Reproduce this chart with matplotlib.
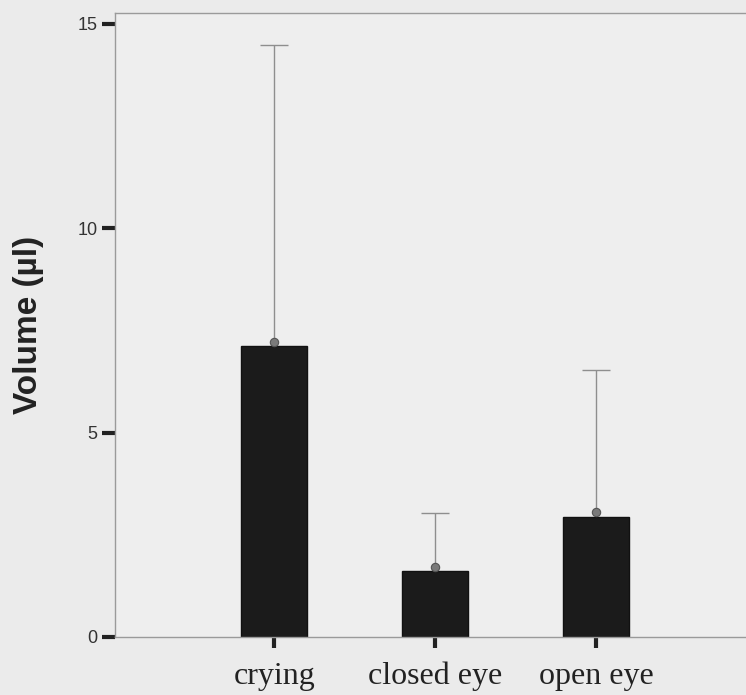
import numpy as np
import matplotlib.pyplot as plt

# bar chart of tear volume per condition
categories = ['crying', 'closed eye', 'open eye']
bar_heights = [7.12, 1.61, 2.94]
means = [7.22, 1.72, 3.05]
upper_limits = [14.49, 3.04, 6.53]
y_ticks = [0, 5, 10, 15]

fig = plt.figure(figsize=(7.46, 6.95), dpi=100)
fig.patch.set_facecolor('#ebebeb')
ax = fig.add_axes([0.1542, 0.0835, 0.8458, 0.8975])
ax.set_facecolor('#eeeeee')

x = np.arange(len(categories))

# solid black bars
ax.bar(x, bar_heights, width=0.41, color='#1b1b1b', edgecolor='#111111', zorder=2)

# upper-only error bars: stem from the mean marker, cap at the top
ax.vlines(x, means, upper_limits, color='#8e8e8e', lw=1.0, zorder=3)
ax.hlines(upper_limits, x - 0.088, x + 0.088, color='#8e8e8e', lw=1.0, zorder=3)
ax.plot(x, means, 'o', ms=6, color='#7a7a7a', mec='#555555', mew=0.8, zorder=4)

ax.set_xlim(-0.988, 2.93)
ax.set_ylim(0, 15.26)

ax.set_xticks(x)
ax.set_xticklabels(categories, family='Liberation Serif', fontsize=23, color='#222222')
ax.set_yticks(y_ticks)
ax.set_yticklabels([str(t) for t in y_ticks], family='Liberation Sans', fontsize=13, color='#333333')

ax.tick_params(axis='y', direction='out', length=9.5, width=3, color='#222222', pad=3)
ax.tick_params(axis='x', direction='out', length=8, width=3, color='#222222', pad=10)

for side in ['left', 'bottom', 'top']:
    ax.spines[side].set_color('#9a9a9a')
    ax.spines[side].set_linewidth(1.0)
ax.spines['right'].set_visible(False)

ax.set_ylabel('Volume (\u00b5l)', family='Liberation Sans', fontweight='bold',
              fontsize=24, color='#222222')
ax.yaxis.set_label_coords(-0.112, 0.5)

fig.savefig('out.png', dpi=100, facecolor=fig.get_facecolor())
